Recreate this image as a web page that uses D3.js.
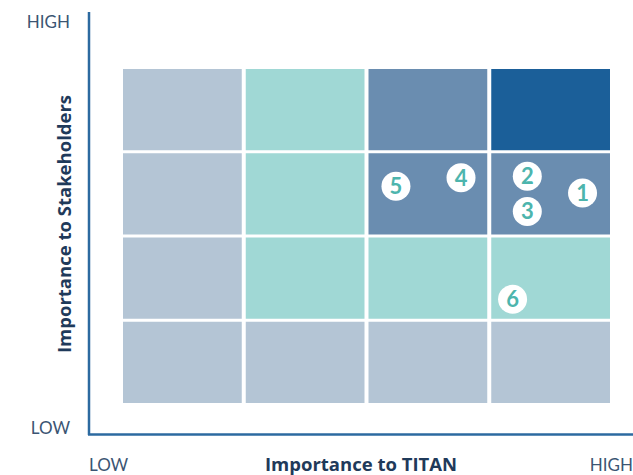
<!DOCTYPE html>
<html>
<head>
<meta charset="utf-8">
<script src="https://cdn.jsdelivr.net/npm/d3@7"></script>
<style>
  body { margin: 0; background: #fff; }
  svg text { font-family: Lato, "Open Sans", sans-serif; }
  svg text.title { font-family: "Open Sans", Lato, sans-serif; }
</style>
</head>
<body>
<div id="chart"></div>
<script>
// matrix levels, bottom row first, left column first
var levels = ["LOW", "HIGH"];
var cellColors = [
  ["#b4c5d5", "#b4c5d5", "#b4c5d5", "#b4c5d5"],
  ["#b4c5d5", "#a0d8d5", "#a0d8d5", "#a0d8d5"],
  ["#b4c5d5", "#a0d8d5", "#6a8db0", "#6a8db0"],
  ["#b4c5d5", "#a0d8d5", "#6a8db0", "#1b5f99"]
];
var topicIds = ["1", "2", "3", "4", "5", "6"];
var titanValues = [3.76, 3.31, 3.31, 2.77, 2.24, 3.19];
var stakeholderValues = [2.51, 2.71, 2.29, 2.69, 2.59, 1.25];

var width = 633, height = 475;

var svg = d3.select("#chart").append("svg")
  .attr("width", width)
  .attr("height", height);

var x = d3.scaleLinear().domain([0, 4]).range([121, 612]);
var y = d3.scaleLinear().domain([0, 4]).range([404.5, 67.5]);

// cells
var row = svg.selectAll(".row")
  .data(cellColors)
  .enter().append("g")
  .attr("class", "row");

row.selectAll(".cell")
  .data(function(d, i) { return d.map(function(c, j) { return {r: i, c: j, color: c}; }); })
  .enter().append("rect")
  .attr("class", "cell")
  .attr("x", function(d) { return x(d.c) + 2; })
  .attr("width", function(d) { return x(d.c + 1) - x(d.c) - 4; })
  .attr("y", function(d) { return y(d.r + 1) + 1.5; })
  .attr("height", function(d) { return y(d.r) - y(d.r + 1) - 3; })
  .style("fill", function(d) { return d.color; });

// axes lines
var axisColor = "#2c6aa0";
svg.append("line")
  .attr("x1", 89).attr("x2", 89)
  .attr("y1", 12).attr("y2", 435)
  .attr("stroke", axisColor).attr("stroke-width", 2.5);
svg.append("line")
  .attr("x1", 88).attr("x2", 633)
  .attr("y1", 434.5).attr("y2", 434.5)
  .attr("stroke", axisColor).attr("stroke-width", 2.5);

// level labels
var labelColor = "#3b5573";
svg.append("text").attr("x", 70).attr("y", 28).attr("text-anchor", "end")
  .attr("font-size", 17).attr("fill", labelColor).text(levels[1]);
svg.append("text").attr("x", 70).attr("y", 434).attr("text-anchor", "end")
  .attr("font-size", 17).attr("fill", labelColor).text(levels[0]);
svg.append("text").attr("x", 89).attr("y", 471).attr("text-anchor", "start")
  .attr("font-size", 17).attr("fill", labelColor).text(levels[0]);
svg.append("text").attr("x", 633).attr("y", 471).attr("text-anchor", "end")
  .attr("font-size", 17).attr("fill", labelColor).text(levels[1]);

// axis titles
svg.append("text")
  .attr("class", "title")
  .attr("x", 361).attr("y", 471)
  .attr("text-anchor", "middle")
  .attr("font-size", 18.5).attr("font-weight", 700)
  .attr("fill", "#1f3a5a")
  .text("Importance to TITAN");

svg.append("text")
  .attr("class", "title")
  .attr("transform", "translate(71,224)rotate(-90)")
  .attr("text-anchor", "middle")
  .attr("font-size", 18.5).attr("font-weight", 700)
  .attr("fill", "#1f3a5a")
  .text("Importance to Stakeholders");

// topic markers
var pts = topicIds.map(function(id, i) {
  return {id: id, tx: titanValues[i], sy: stakeholderValues[i]};
});

var marker = svg.selectAll(".marker")
  .data(pts)
  .enter().append("g")
  .attr("class", "marker")
  .attr("transform", function(d) { return "translate(" + x(d.tx) + "," + y(d.sy) + ")"; });

marker.append("circle")
  .attr("r", 14.5)
  .attr("fill", "#fff");

marker.append("text")
  .attr("text-anchor", "middle")
  .attr("dy", "0.36em")
  .attr("font-size", 22)
  .attr("font-weight", 700)
  .attr("fill", "#4db5ad")
  .text(function(d) { return d.id; });
</script>
</body>
</html>
